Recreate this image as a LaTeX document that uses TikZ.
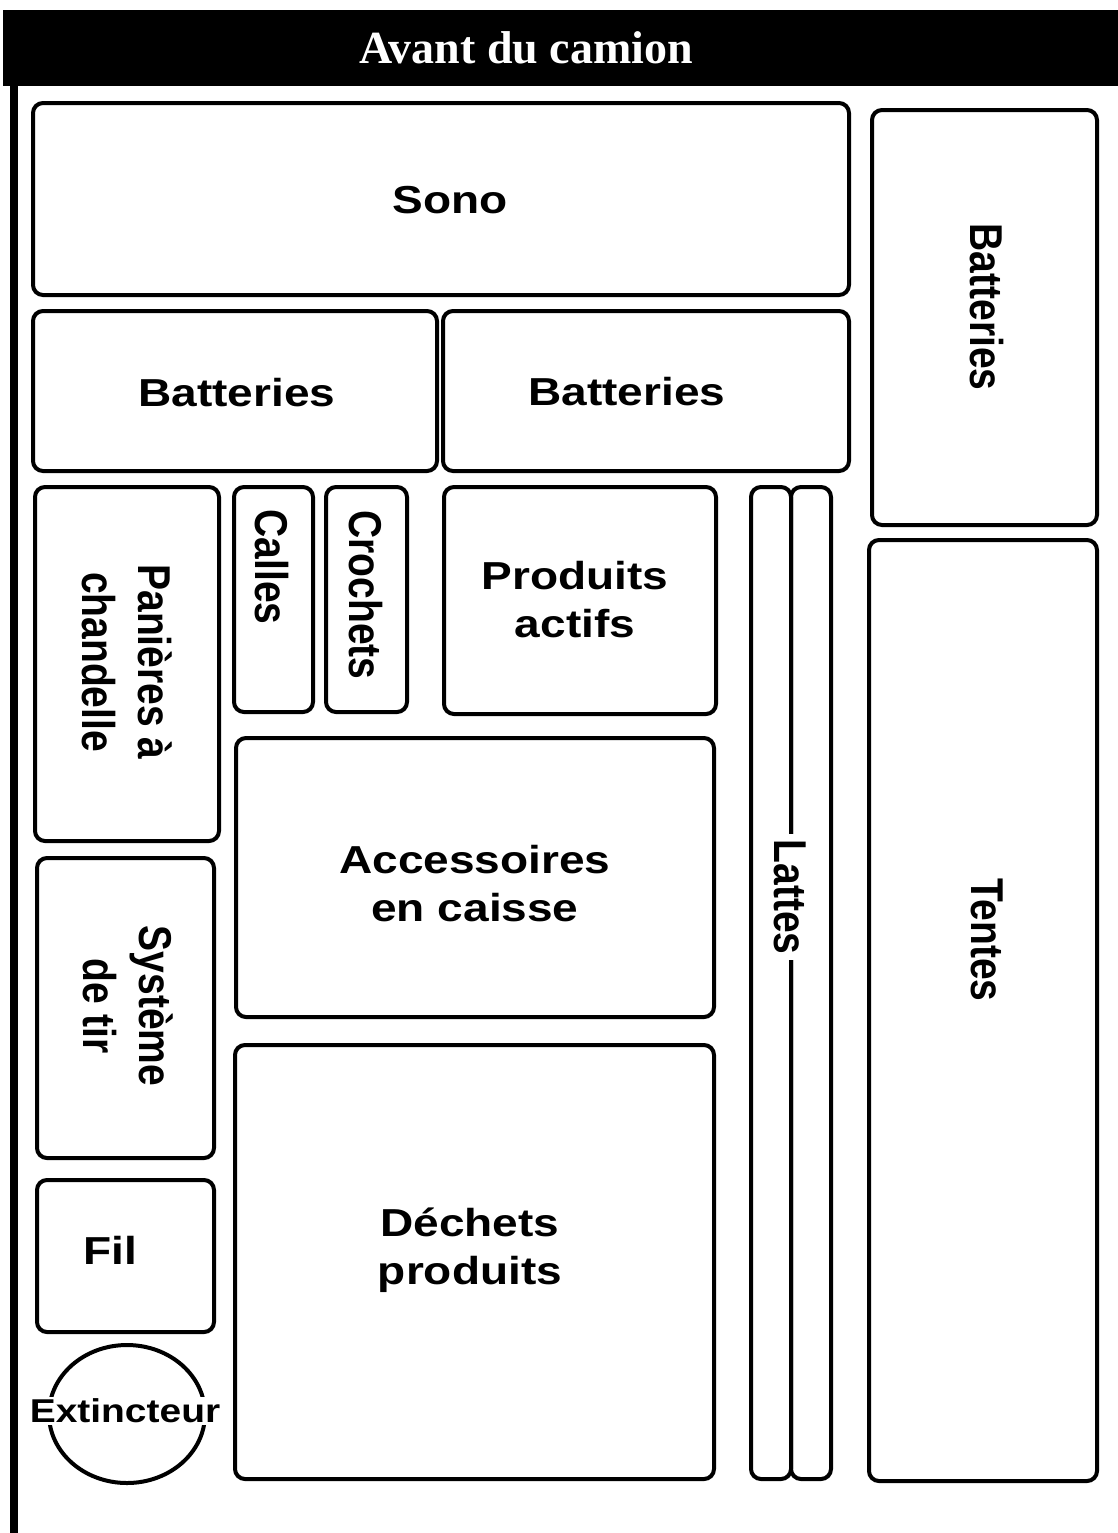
\documentclass[tikz,border=0pt]{standalone}
\usepackage{fontspec}
\setmainfont{Liberation Sans}
\newfontfamily\titrefont{Liberation Serif}
\tikzset{ bx/.style = { draw % caisse
, line width = 2pt
, rounded corners = 5pt
}
, lb/.style = { font = \bfseries\fontsize{19.5}{24}\selectfont % etiquette
, align = center
, inner sep = 0pt
, xscale = 1.18
}
, vl/.style = { lb % etiquette verticale
, rotate = -90
}
}
\def\caisse(#1,#2,#3,#4){% caisse
\draw[bx] (#1,#2) rectangle (#3,#4);
}

\begin{document}
\begin{tikzpicture}[x=0.5pt, y=-0.5pt]
                    \useasboundingbox (0,0) rectangle (1118,1533);
                    \fill (3,10) rectangle (1118,86);
                    \node[text=white, font=\titrefont\bfseries\fontsize{23}{26}\selectfont] (avant) at (526,48) {Avant du camion};
                    \draw[line width=4pt] (14,86) -- (14,1533);

                    \caisse(33,103,849,295)
                    \caisse(872,110,1097,525)
                    \caisse(33,311,437,471)
                    \caisse(443,311,849,471)
                    \caisse(35,487,219,841)
                    \caisse(234,487,313,712)
                    \caisse(326,487,407,712)
                    \caisse(444,487,716,714)
                    \caisse(751,487,791,1479)
                    \caisse(791,487,831,1479)
                    \caisse(869,540,1097,1481)
                    \caisse(236,738,714,1017)
                    \caisse(37,858,214,1158)
                    \caisse(37,1180,214,1332)
                    \caisse(235,1045,714,1479)
                    \draw[line width=2pt] (127,1414) ellipse [x radius=78, y radius=69];

                    \node[lb] (sono) at (450,200) {Sono};
                    \node[lb] (batt1) at (237,393) {Batteries};
                    \node[lb] (batt2) at (627,392) {Batteries};
                    \node[vl] (batt3) at (987,307) {Batteries};
                    \node[vl] (panieres) at (127,662) {Panières à\\chandelle};
                    \node[vl] (calles) at (272,567) {Calles};
                    \node[vl] (crochets) at (366,595) {Crochets};
                    \node[lb] (produits) at (575,600) {Produits\\actifs};
                    \node[lb] (accessoires) at (475,884) {Accessoires\\en caisse};
                    \node[vl, fill=white, inner xsep=3pt] (lattes) at (790,897) {Lattes};
                    \node[vl] (tentes) at (987,940) {Tentes};
                    \node[vl] (systeme) at (128,1006) {Système\\de tir};
                    \node[lb] (fil) at (110,1250) {Fil};
                    \node[lb] (dechets) at (470,1250) {Déchets\\produits};
                    \node[lb, fill=white, inner sep=1pt, font=\bfseries\fontsize{16.5}{20}\selectfont] (extincteur) at (125,1411) {Extincteur};
                \end{tikzpicture}
\end{document}
